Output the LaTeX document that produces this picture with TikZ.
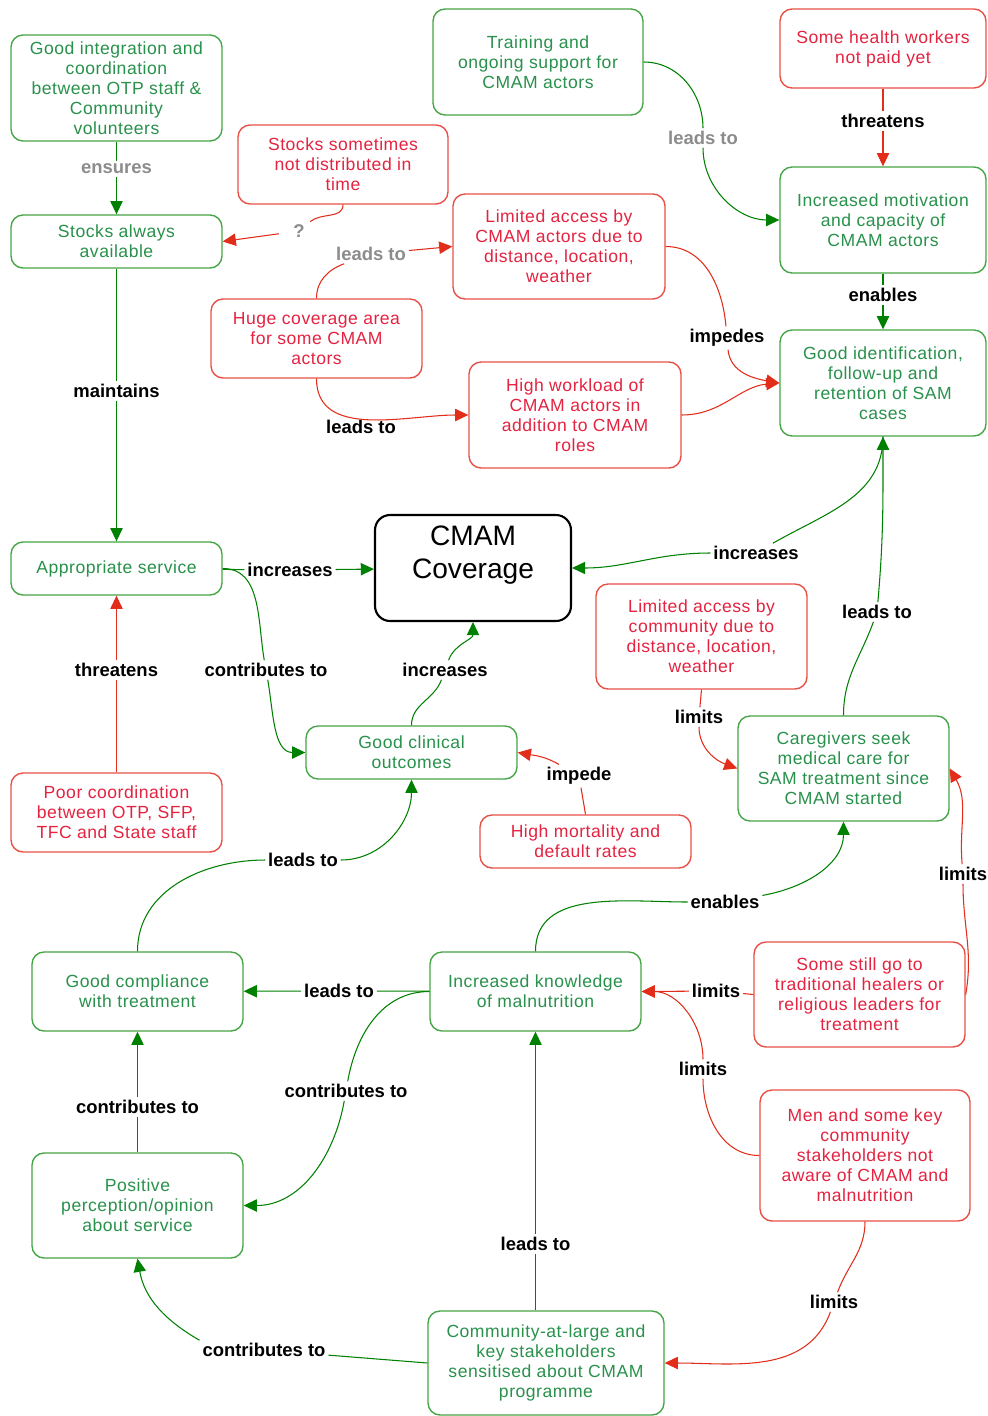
\documentclass[tikz,border=0pt]{standalone}
\usepackage{fontspec}
\setmainfont{Liberation Sans}
\usetikzlibrary{arrows.meta}

\definecolor{boxgreen}{RGB}{70,165,70}
\definecolor{linegreen}{RGB}{0,128,0}
\definecolor{txtgreen}{RGB}{40,145,75}
\definecolor{boxred}{RGB}{232,80,70}
\definecolor{linered}{RGB}{225,45,25}
\definecolor{txtred}{RGB}{228,35,65}

\tikzset{
  goodbox/.style={draw=boxgreen, text=txtgreen, rounded corners=0.24cm, line width=0.8pt,
    align=center, minimum width=4.22cm, inner sep=2pt,
    font=\fontsize{10}{11.4}\selectfont\addfontfeature{LetterSpace=3}},
  badbox/.style={goodbox, draw=boxred, text=txtred},
  glink/.style={draw=linegreen, line width=0.6pt, -{Triangle[length=7.5pt,width=7pt]}},
  rlink/.style={glink, draw=linered},
  lbl/.style={fill=white, inner sep=1.5pt, font=\bfseries\fontsize{10.5}{12}\selectfont},
  greylbl/.style={lbl, text=black!45},
}

\begin{document}
\begin{tikzpicture}[x=0.02cm, y=-0.02cm]
        \useasboundingbox (0,0) rectangle (987,1416);
        \fill[white] (0,0) rectangle (987,1416);

        % Boxes (top)
        \node[goodbox, minimum height=2.12cm] (integ) at (116.5,88) {Good integration and\\ coordination\\ between OTP staff \&\\ Community\\ volunteers};
        \node[goodbox, minimum height=1.06cm] (stocks) at (116.5,241.5) {Stocks always\\ available};
        \node[goodbox, minimum width=4.2cm, minimum height=2.12cm] (training) at (538,62) {Training and\\ ongoing support for\\ CMAM actors};
        \node[badbox, minimum width=4.12cm, minimum height=1.58cm] (unpaid) at (883,48.5) {Some health workers\\ not paid yet};
        \node[badbox, minimum width=4.2cm, minimum height=1.58cm] (latestock) at (343,164.5) {Stocks sometimes\\ not distributed in\\ time};
        \node[badbox, minimum width=4.24cm, minimum height=2.1cm] (actaccess) at (559,246.5) {Limited access by\\ CMAM actors due to\\ distance, location,\\ weather};
        \node[goodbox, minimum width=4.12cm, minimum height=2.12cm] (motiv) at (883,220) {Increased motivation\\ and capacity of\\ CMAM actors};
        \node[badbox, minimum height=1.58cm] (hugearea) at (316.5,338.5) {Huge coverage area\\ for some CMAM\\ actors};
        \node[badbox, minimum width=4.24cm, minimum height=2.12cm] (workload) at (575,415) {High workload of\\ CMAM actors in\\ addition to CMAM\\ roles};
        \node[goodbox, minimum width=4.12cm, minimum height=2.12cm] (ident) at (883,383) {Good identification,\\ follow-up and\\ retention of SAM\\ cases};

        % Boxes (middle)
        \node[goodbox, minimum height=1.06cm] (service) at (116.5,568.5) {Appropriate service};
        \node[draw=black, line width=1.2pt, rounded corners=0.3cm, align=center, minimum width=3.92cm,
          minimum height=2.12cm, text depth=0.63cm, font=\fontsize{16}{18.8}\selectfont] (coverage) at (473,568) {CMAM\\ Coverage};
        \node[badbox, minimum height=2.1cm] (comaccess) at (701.5,636.5) {Limited access by\\ community due to\\ distance, location,\\ weather};
        \node[goodbox, minimum height=1.06cm] (clinical) at (411.5,752.5) {Good clinical\\ outcomes};
        \node[goodbox, minimum height=2.1cm] (seek) at (843.5,768.5) {Caregivers seek\\ medical care for\\ SAM treatment since\\ CMAM started};
        \node[badbox, minimum height=1.58cm] (poorcoord) at (116.5,812.5) {Poor coordination\\ between OTP, SFP,\\ TFC and State staff};
        \node[badbox, minimum height=1.06cm] (mortality) at (585.5,841.5) {High mortality and\\ default rates};

        % Boxes (bottom)
        \node[goodbox, minimum height=1.58cm] (compliance) at (137.5,991.5) {Good compliance\\ with treatment};
        \node[goodbox, minimum height=1.58cm] (knowledge) at (535.5,991.5) {Increased knowledge\\ of malnutrition};
        \node[badbox, minimum height=2.1cm] (healers) at (859.5,994.5) {Some still go to\\ traditional healers or\\ religious leaders for\\ treatment};
        \node[badbox, minimum width=4.2cm, minimum height=2.62cm] (unaware) at (865,1155.5) {Men and some key\\ community\\ stakeholders not\\ aware of CMAM and\\ malnutrition};
        \node[goodbox, minimum height=2.1cm] (perception) at (137.5,1205.5) {Positive\\ perception/opinion\\ about service};
        \node[goodbox, minimum width=4.72cm, minimum height=2.08cm] (sensitised) at (546,1363) {Community-at-large and\\ key stakeholders\\ sensitised about CMAM\\ programme};

        % Labels
        \node[greylbl] (ensures) at (116.5,169) {ensures};
        \node[greylbl, inner xsep=8pt] (unsure) at (299,231) {?};
        \node[greylbl] (hugeleads) at (371,254) {leads to};
        \node[greylbl] (trainleads) at (703,138) {leads to};
        \node[lbl] (unpaidthreat) at (883,121) {threatens};
        \node[lbl] (motivenables) at (883,295) {enables};
        \node[lbl] (impedes) at (727,338) {impedes};
        \node[lbl] (workleads) at (361,427) {leads to};
        \node[lbl] (maintains) at (116.5,391) {maintains};
        \node[lbl] (serviceinc) at (290,570) {increases};
        \node[lbl] (identinc) at (756,553) {increases};
        \node[lbl] (seekleads) at (877,612) {leads to};
        \node[lbl] (servicecontr) at (266,670) {contributes to};
        \node[lbl] (clinicalinc) at (445,670) {increases};
        \node[lbl] (poorthreat) at (116.5,670) {threatens};
        \node[lbl] (comlimits) at (699,717) {limits};
        \node[lbl] (impede) at (579,776) {impede};
        \node[lbl] (complleads) at (303,860) {leads to};
        \node[lbl] (knowenables) at (725,902) {enables};
        \node[lbl] (healerlimits2) at (963,874) {limits};
        \node[lbl] (knowleads) at (339,991) {leads to};
        \node[lbl] (healerlimits) at (716,991) {limits};
        \node[lbl] (unawarelimits) at (703,1069) {limits};
        \node[lbl] (knowcontr) at (346,1091) {contributes to};
        \node[lbl] (percontr) at (137.5,1107) {contributes to};
        \node[lbl] (sensleads) at (535.5,1244) {leads to};
        \node[lbl] (senscontr) at (264,1350) {contributes to};
        \node[lbl] (unawarelimits2) at (834,1302) {limits};

        % Links (top)
        \draw[glink] (integ) -- (ensures) -- (stocks);
        \draw[rlink] (latestock.south) to[out=-90,in=40] (unsure) -- (stocks.east);
        \draw[rlink] (hugearea.north) to[out=90,in=200] (hugeleads) -- (actaccess.west);
        \draw[glink] (training.east) to[out=0,in=90] (trainleads) to[out=-90,in=180] (motiv.west);
        \draw[rlink] (unpaid) -- (unpaidthreat) -- (motiv);
        \draw[glink] (motiv) -- (motivenables) -- (ident);
        \draw[rlink] (actaccess.east) to[out=0,in=95] (impedes) to[out=-85,in=170] (ident.west);
        \draw[rlink] (workload.east) to[out=0,in=185] (ident.west);
        \draw[rlink] (hugearea.south) to[out=-90,in=180] (workload.west);
        \draw[glink] (stocks) -- (maintains) -- (service);

        % Links (middle)
        \draw[glink] (service) -- (serviceinc) -- (coverage);
        \draw[glink] (ident.south) to[out=-90,in=30] (identinc) to[out=180,in=0] (coverage.east);
        \draw[glink] (seek.north) to[out=90,in=-110] (seekleads) to[out=85,in=-90] (ident.south);
        \draw[glink] (service.east) to[out=0,in=100] (servicecontr) to[out=-80,in=180] (clinical.west);
        \draw[glink] (clinical.north) to[out=90,in=-110] (clinicalinc) to[out=70,in=-90] (coverage.south);
        \draw[rlink] (poorcoord) -- (poorthreat) -- (service);
        \draw[rlink] (comaccess.south) -- (comlimits) to[out=-90,in=160] (seek.west);
        \draw[rlink] (mortality.north) -- (impede) to[out=150,in=-10] (clinical.east);

        % Links (bottom)
        \draw[glink] (compliance.north) to[out=90,in=180] (complleads) to[out=0,in=-90] (clinical.south);
        \draw[glink] (knowledge.north) to[out=90,in=180] (knowenables) to[out=10,in=-90] (seek.south);
        \draw[rlink] (healers.east) to[out=80,in=-90] (healerlimits2) to[out=95,in=-60] (seek.east);
        \draw[glink] (knowledge) -- (knowleads) -- (compliance);
        \draw[rlink] (healers.west) -- (healerlimits) -- (knowledge.east);
        \draw[rlink] (unaware.west) to[out=180,in=-90] (unawarelimits) to[out=90,in=0] (knowledge.east);
        \draw[glink] (knowledge.west) to[out=180,in=80] (knowcontr) to[out=-100,in=0] (perception.east);
        \draw[glink] (perception) -- (percontr) -- (compliance);
        \draw[glink] (sensitised.north -| knowledge.south) -- (sensleads) -- (knowledge);
        \draw[glink] (sensitised.west) -- (senscontr) (senscontr.north west) to[out=150,in=-80] (perception.south);
        \draw[rlink] (unaware.south) to[out=-90,in=70] (unawarelimits2) to[out=-110,in=0] (sensitised.east);

\end{tikzpicture}
\end{document}
